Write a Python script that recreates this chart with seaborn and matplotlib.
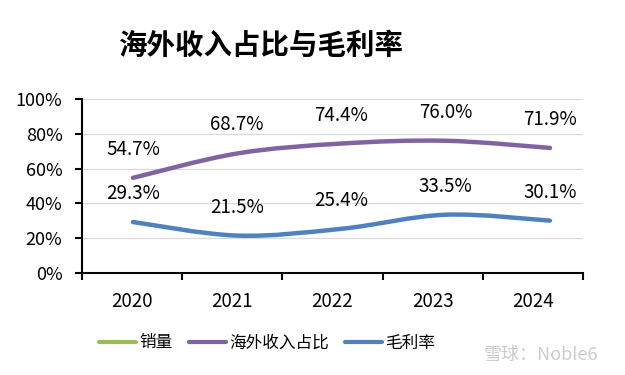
import matplotlib
matplotlib.use('Agg')
import matplotlib.pyplot as plt
import numpy as np
import seaborn as sns
from matplotlib.path import Path
from matplotlib.patches import PathPatch
from matplotlib.lines import Line2D

# datos
years = ['2020', '2021', '2022', '2023', '2024']
overseas = [54.7, 68.7, 74.4, 76.0, 71.9]   # 海外收入占比 (%)
margin = [29.3, 21.5, 25.4, 33.5, 30.1]     # 毛利率 (%)
series_names = ['销量', '海外收入占比', '毛利率']
colors = ['#9BBB59', '#8064A2', '#4F81BD']

sns.set_theme(style='white')
plt.rcParams['font.family'] = ['Noto Sans CJK SC', 'DejaVu Sans']
plt.rcParams['text.color'] = 'black'
plt.rcParams['xtick.color'] = 'black'
plt.rcParams['ytick.color'] = 'black'
plt.rcParams['xtick.labelcolor'] = 'black'
plt.rcParams['ytick.labelcolor'] = 'black'


def smooth_path(xs, ys):
    # curva bezier tipo Excel que pasa por los puntos
    pts = list(zip(xs, ys))
    verts = [pts[0]]
    codes = [Path.MOVETO]
    n = len(pts)
    for i in range(n - 1):
        p0 = pts[max(i - 1, 0)]
        p1 = pts[i]
        p2 = pts[i + 1]
        p3 = pts[min(i + 2, n - 1)]
        c1 = (p1[0] + (p2[0] - p0[0]) / 6, p1[1] + (p2[1] - p0[1]) / 6)
        c2 = (p2[0] - (p3[0] - p1[0]) / 6, p2[1] - (p3[1] - p1[1]) / 6)
        verts += [c1, c2, p2]
        codes += [Path.CURVE4] * 3
    return Path(verts, codes)


fig = plt.figure(figsize=(6.25, 3.75), dpi=100)
ax = fig.add_axes([82 / 625, 102 / 375, 501 / 625, 174 / 375])

ax.set_ylim(0, 100)
ax.set_yticks(np.arange(0, 101, 20))
ax.set_yticklabels([f'{v}%' for v in range(0, 101, 20)], fontsize=13)
ax.set_xlim(-0.5, 4.5)
ax.set_xticks(range(len(years)))
ax.set_xticklabels(years, fontsize=13.5)
ax.set_xticks(np.arange(-0.5, len(years), 1), minor=True)
ax.tick_params(axis='x', which='major', length=0, pad=13)
ax.tick_params(axis='x', which='minor', length=5, width=1.5, color='black', direction='out', bottom=True)
ax.tick_params(axis='y', which='major', length=5, width=1.5, color='black', direction='out', left=True, pad=9)
ax.yaxis.grid(True, color='#D9D9D9', lw=0.9)
ax.set_axisbelow(True)
sns.despine(ax=ax)
for s in ['left', 'bottom']:
    ax.spines[s].set_color('black')
    ax.spines[s].set_linewidth(1.5)

# las lineas estan en un eje secundario con otra escala horizontal
axl = ax.twiny()
axl.set_xlim(-0.489, 4.317)
axl.axis('off')
xs = np.arange(len(years))
for vals, col in [(overseas, colors[1]), (margin, colors[2])]:
    axl.add_patch(PathPatch(smooth_path(xs, vals), facecolor='none', edgecolor=col,
                            lw=3.2, capstyle='round'))
    for x, v in zip(xs, vals):
        axl.annotate(f'{v:.1f}%', (x, v), xytext=(0, 20.5), textcoords='offset points',
                     ha='center', va='center', fontsize=13.5, color='black')

handles = [Line2D([], [], color=c, lw=3) for c in colors]
fig.legend(handles, series_names, loc='center left', bbox_to_anchor=(99 / 625, 1 - 343 / 375),
           ncol=3, frameon=False, handlelength=2.2, handletextpad=0.2, columnspacing=1.0,
           fontsize=12, borderpad=0, borderaxespad=0, labelcolor='black')

fig.text(261 / 625, 1 - 46 / 375, '海外收入占比与毛利率', fontsize=20.5, fontweight='bold',
         ha='center', va='center', color='black')
fig.text(484 / 625, 1 - 355 / 375, '雪球：Noble6', color='#CCCCCC', fontsize=13, va='center')

fig.savefig('out.png', dpi=100)
